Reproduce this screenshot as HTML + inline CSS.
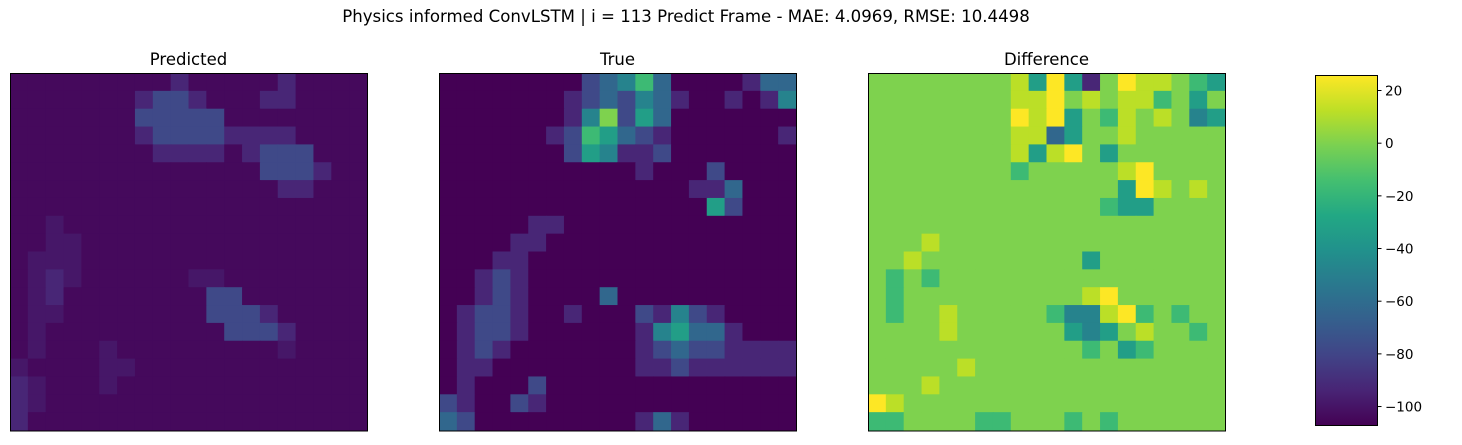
<!DOCTYPE html>
<html><head><meta charset="utf-8"><style>
body{margin:0;background:#fff;width:1462px;height:441px;overflow:hidden;font-family:"DejaVu Sans","Liberation Sans",sans-serif}
</style></head><body>
<svg id="fig" width="1462" height="441" xmlns="http://www.w3.org/2000/svg" font-family="DejaVu Sans, Liberation Sans, sans-serif">
<text x="686" y="22" font-size="16.6" text-anchor="middle" fill="#000">Physics informed ConvLSTM | i = 113 Predict Frame - MAE: 4.0969, RMSE: 10.4498</text>
<defs><linearGradient id="vir" x1="0" y1="1" x2="0" y2="0">
<stop offset="0" stop-color="#440154"/><stop offset="0.1" stop-color="#482475"/><stop offset="0.2" stop-color="#414487"/><stop offset="0.3" stop-color="#355f8d"/><stop offset="0.4" stop-color="#2a788e"/><stop offset="0.5" stop-color="#21918c"/><stop offset="0.6" stop-color="#22a884"/><stop offset="0.7" stop-color="#44bf70"/><stop offset="0.8" stop-color="#7ad151"/><stop offset="0.9" stop-color="#bddf26"/><stop offset="1" stop-color="#fde725"/>
</linearGradient></defs>
<g id="panels"></g>
<rect x="1315.5" y="75.5" width="62" height="350" fill="url(#vir)" stroke="#000" stroke-width="1"/>
<g id="cbticks"></g>
</svg>
<script>
const vmin = -107.2, vmax = 25.7;
const cbTicks = [20, 0, -20, -40, -60, -80, -100];
const level = {'0':-108,'y':-99,'z':-104,'1':-93,'2':-78,'3':-63,'4':-48,'5':-33,'6':-17,'7':0,'8':12,'9':26};
const panelTitles = ['Predicted','True','Difference'];
const predicted = [
"zzzzzzzzz1zzzzz1zzzz","zzzzzzz1221zzz11zzzz","zzzzzzz22222zzzzzzzz","zzzzzzz122221111zzzz",
"zzzzzzzz1111z1222zzz","zzzzzzzzzzzzzz2221zz","zzzzzzzzzzzzzzz11zzz","zzzzzzzzzzzzzzzzzzzz",
"zzyzzzzzzzzzzzzzzzzz","zzyyzzzzzzzzzzzzzzzz","zyyyzzzzzzzzzzzzzzzz","zy1yzzzzzzyyzzzzzzzz",
"zy1zzzzzzzz22zzzzzzz","zyyzzzzzzzz2221zzzzz","zyzzzzzzzzzz2221zzzz","zyzzzyzzzzzzzzzyzzzz",
"yzzzzyyzzzzzzzzzzzzz","1yzzzyzzzzzzzzzzzzzz","1yzzzzzzzzzzzzzzzzzz","1zzzzzzzzzzzzzzzzzzz"];
const truth = [
"00000000234630000133","00000001232431001014","00000001472530000000","00000012653210000001",
"00000002541120000000","00000000000100020000","00000000000000113000","00000000000000052000",
"00000110000000000000","00001100000000000000","00011000000000000000","00121000000000000000",
"00121000030000000000","01221001000214210000","01221000000145331000","01210000000123221111",
"01100000000112111111","01000200000000000000","21002100000000000000","32000000000131000000"];
const difference = [
"77777777859517988765","77777777889787886757","77777777989576878745","77777777883577877777",
"77777777858975777777","77777777677777897777","77777777777777598787","77777777777776557777",
"77777777777777777777","77787777777777777777","77877777777757777777","76767777777777777777",
"76777777777789777777","76778777776448967677","77778777777545787767","77777777777767567777",
"77777877777777777777","77787777777777777777","98777777777777777777","66777766777676777777"];
const grids = [predicted, truth, difference];
const panelX = [10, 439, 868], panelY = 73, panelSize = 357;

const stops = [[68,1,84],[72,36,117],[65,68,135],[53,95,141],[42,120,142],[33,145,140],[34,168,132],[68,191,112],[122,209,81],[189,223,38],[253,231,37]];
function viridis(v){
  let t = Math.max(0, Math.min(1, (v - vmin) / (vmax - vmin))) * 10;
  const i = Math.min(9, Math.floor(t)), f = t - i;
  const a = stops[i], b = stops[i+1];
  return 'rgb(' + a.map((c,k)=>Math.round(c + (b[k]-c)*f)).join(',') + ')';
}
const NS = 'http://www.w3.org/2000/svg';
const panels = document.getElementById('panels');
grids.forEach((g, p) => {
  const grp = document.createElementNS(NS, 'g');
  
  
  const n = g.length, cs = panelSize / n;
  g.forEach((row, r) => {
    for (let c = 0; c < row.length; c++) {
      const rect = document.createElementNS(NS, 'rect');
      
      
      rect.setAttribute('x', panelX[p] + c * cs);
      rect.setAttribute('y', panelY + r * cs);
      rect.setAttribute('width', cs + 0.6);
      rect.setAttribute('height', cs + 0.6);
      rect.setAttribute('fill', viridis(level[row[c]]));
      grp.appendChild(rect);
    }
  });
  const fr = document.createElementNS(NS, 'rect');
  
  
  fr.setAttribute('x', panelX[p] + 0.5); fr.setAttribute('y', panelY + 0.5);
  fr.setAttribute('width', panelSize); fr.setAttribute('height', panelSize + 0.5);
  fr.setAttribute('fill', 'none'); fr.setAttribute('stroke', '#000');
  grp.appendChild(fr);
  const t = document.createElementNS(NS, 'text');
  
  
  t.setAttribute('x', panelX[p] + panelSize / 2); t.setAttribute('y', 65);
  t.setAttribute('font-size', '16.5'); t.setAttribute('text-anchor', 'middle');
  t.textContent = panelTitles[p];
  grp.appendChild(t);
  panels.appendChild(grp);
});
const cb = document.getElementById('cbticks');
const cbTop = 75.5, cbH = 350;
cbTicks.forEach(v => {
  const y = cbTop + (vmax - v) / (vmax - vmin) * cbH;
  const l = document.createElementNS(NS, 'line');
  
  
  l.setAttribute('x1', 1377.5); l.setAttribute('x2', 1381.5);
  l.setAttribute('y1', y); l.setAttribute('y2', y); l.setAttribute('stroke', '#000');
  cb.appendChild(l);
  const t = document.createElementNS(NS, 'text');
  
  
  t.setAttribute('x', 1385); t.setAttribute('y', y + 5);
  t.setAttribute('font-size', '13.5');
  t.textContent = v < 0 ? '\u2212' + Math.abs(v) : String(v);
  cb.appendChild(t);
});
</script>
</body></html>
